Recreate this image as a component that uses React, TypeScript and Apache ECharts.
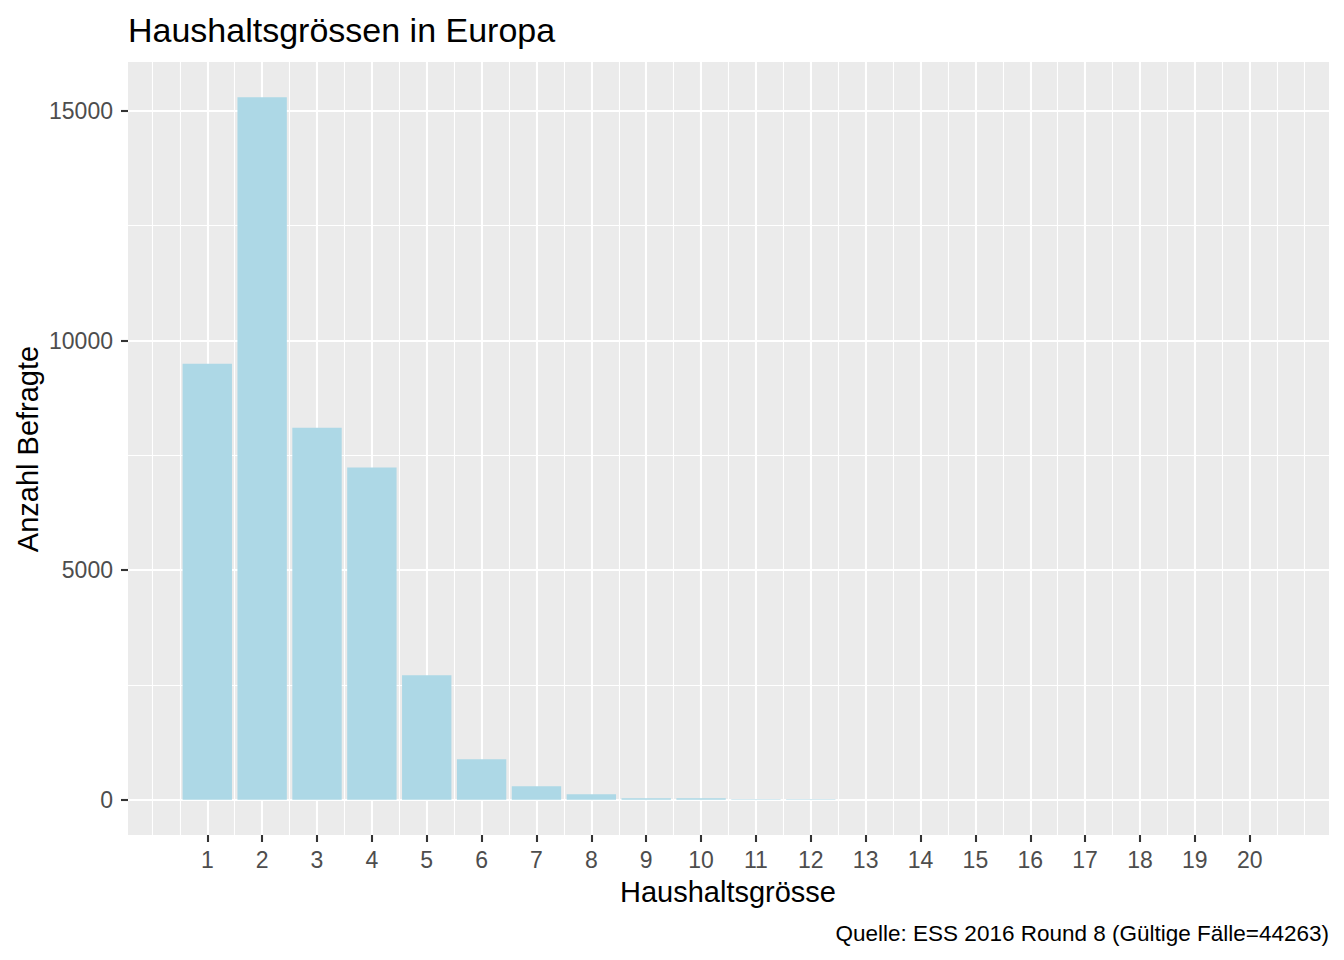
import React, { useEffect, useRef } from "react";
import * as echarts from "echarts";

// Haushaltsgrösse (household size) categories and counts
const householdSizes = [1, 2, 3, 4, 5, 6, 7, 8, 9, 10, 11, 12, 13, 14, 15, 16, 17, 18, 19, 20];
const respondentCounts = [9493, 15298, 8102, 7233, 2711, 885, 298, 124, 37, 37, 15, 15, 4, 3, 2, 2, 1, 1, 1, 1];

// Axis ticks / labels
const xTickValues = [1, 2, 3, 4, 5, 6, 7, 8, 9, 10, 11, 12, 13, 14, 15, 16, 17, 18, 19, 20];
const xMinorGrid = [0, 0.5, 1.5, 2.5, 3.5, 4.5, 5.5, 6.5, 7.5, 8.5, 9.5, 10.5, 11.5, 12.5, 13.5, 14.5, 15.5, 16.5, 17.5, 18.5, 19.5, 20.5, 21];
const yTickValues = [0, 5000, 10000, 15000];
const yMinorGrid = [2500, 7500, 12500];

const chartTitle = "Haushaltsgrössen in Europa";
const xAxisTitle = "Haushaltsgrösse";
const yAxisTitle = "Anzahl Befragte";
const captionText = "Quelle: ESS 2016 Round 8 (Gültige Fälle=44263)";

const FONT = '"Liberation Sans", Arial, Helvetica, sans-serif';

export default function App() {
  const ref = useRef<HTMLDivElement>(null);

  useEffect(() => {
    if (!ref.current) return;
    const chart = echarts.init(ref.current, undefined, { renderer: "svg" });

    const barData = householdSizes.map((s, i) => [s, respondentCounts[i]]);

    const gridLines: any[] = [
      ...xMinorGrid.map((v) => ({ xAxis: v, lineStyle: { width: 1.1 } })),
      ...yMinorGrid.map((v) => ({ yAxis: v, lineStyle: { width: 1.1 } })),
      ...xTickValues.map((v) => ({ xAxis: v, lineStyle: { width: 2.1 } })),
      ...yTickValues.map((v) => ({ yAxis: v, lineStyle: { width: 2.1 } })),
    ];

    chart.setOption({
      animation: false,
      grid: {
        left: 128,
        top: 62,
        right: 15,
        bottom: 125,
        show: true,
        backgroundColor: "#EBEBEB",
        borderWidth: 0,
        containLabel: false,
      },
      xAxis: {
        type: "value",
        min: -0.445,
        max: 21.445,
        position: "bottom",
        axisLine: { show: true, onZero: false, lineStyle: { color: "#EBEBEB", opacity: 0 } },
        splitLine: { show: false },
        axisTick: {
          show: true,
          inside: false,
          length: 7,
          customValues: xTickValues,
          lineStyle: { color: "#333333", width: 2.1 },
        },
        axisLabel: {
          show: true,
          customValues: xTickValues,
          formatter: (v: number) => String(v),
          color: "#4D4D4D",
          fontSize: 23,
          fontFamily: FONT,
          margin: 13,
        },
      },
      yAxis: {
        type: "value",
        min: -765,
        max: 16063,
        position: "left",
        axisLine: { show: true, onZero: false, lineStyle: { color: "#EBEBEB", opacity: 0 } },
        splitLine: { show: false },
        axisTick: {
          show: true,
          inside: false,
          length: 7,
          customValues: yTickValues,
          lineStyle: { color: "#333333", width: 2.1 },
        },
        axisLabel: {
          show: true,
          customValues: yTickValues,
          formatter: (v: number) => String(v),
          color: "#4D4D4D",
          fontSize: 23,
          fontFamily: FONT,
          margin: 15,
        },
      },
      series: [
        {
          type: "line",
          data: [],
          z: 1,
          silent: true,
          markLine: {
            z: 1,
            silent: true,
            animation: false,
            symbol: ["none", "none"],
            label: { show: false },
            emphasis: { disabled: true },
            lineStyle: { type: "solid", color: "#FFFFFF", width: 2.1 },
            data: gridLines,
          },
        },
        {
          type: "custom",
          z: 10,
          data: barData,
          encode: { x: 0, y: 1 },
          renderItem: (params: any, api: any) => {
            const x = api.value(0);
            const v = api.value(1);
            const p0 = api.coord([x - 0.45, v]);
            const p1 = api.coord([x + 0.45, 0]);
            return {
              type: "rect",
              shape: { x: p0[0], y: p0[1], width: p1[0] - p0[0], height: p1[1] - p0[1] },
              style: { fill: "#ADD8E6" },
            };
          },
        },
      ],
      graphic: [
        {
          type: "text",
          x: 128,
          y: 30,
          style: {
            text: chartTitle,
            fontSize: 34,
            fontFamily: FONT,
            fill: "#000000",
            align: "left",
            verticalAlign: "middle",
          },
        },
        {
          type: "text",
          x: 728,
          y: 892,
          style: {
            text: xAxisTitle,
            fontSize: 29,
            fontFamily: FONT,
            fill: "#000000",
            align: "center",
            verticalAlign: "middle",
          },
        },
        {
          type: "text",
          x: 28,
          y: 449,
          rotation: Math.PI / 2,
          style: {
            text: yAxisTitle,
            fontSize: 29,
            fontFamily: FONT,
            fill: "#000000",
            align: "center",
            verticalAlign: "middle",
          },
        },
        {
          type: "text",
          x: 1329,
          y: 933,
          style: {
            text: captionText,
            fontSize: 22.5,
            fontFamily: FONT,
            fill: "#000000",
            align: "right",
            verticalAlign: "middle",
          },
        },
      ],
    });

    return () => chart.dispose();
  }, []);

  return (
    <div
      ref={ref}
      style={{ position: "fixed", left: 0, top: 0, width: 1344, height: 960, background: "#FFFFFF" }}
    />
  );
}
